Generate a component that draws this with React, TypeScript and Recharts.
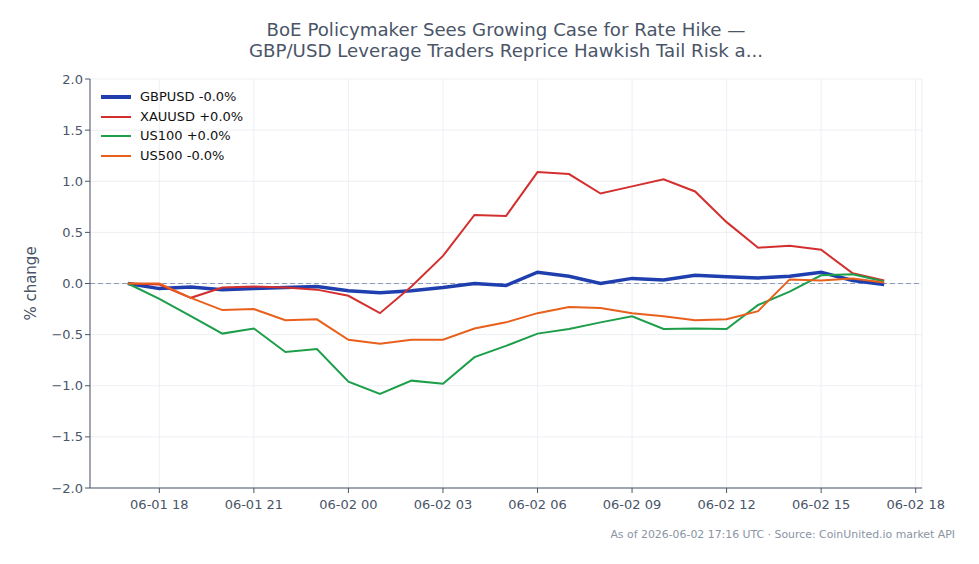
import React from "react";
import {
  LineChart,
  Line,
  XAxis,
  YAxis,
  CartesianGrid,
  ReferenceLine,
} from "recharts";

// hours since 06-01 00:00 UTC (17 = 06-01 17:00 ... 41 = 06-02 17:00)
const hours = [17, 18, 19, 20, 21, 22, 23, 24, 25, 26, 27, 28, 29, 30, 31, 32, 33, 34, 35, 36, 37, 38, 39, 40, 41];

const gbpusd = [0, -0.05, -0.035, -0.06, -0.05, -0.04, -0.03, -0.07, -0.09, -0.07, -0.04, 0.0, -0.02, 0.11, 0.07, 0.0, 0.05, 0.035, 0.08, 0.065, 0.055, 0.07, 0.11, 0.03, -0.01];
const xauusd = [0, -0.01, -0.14, -0.04, -0.03, -0.04, -0.06, -0.12, -0.29, -0.03, 0.27, 0.67, 0.66, 1.09, 1.07, 0.88, 0.95, 1.02, 0.9, 0.6, 0.35, 0.37, 0.33, 0.1, 0.03];
const us100 = [0, -0.15, -0.32, -0.49, -0.44, -0.67, -0.64, -0.96, -1.08, -0.95, -0.98, -0.72, -0.61, -0.49, -0.445, -0.38, -0.32, -0.445, -0.44, -0.445, -0.21, -0.08, 0.08, 0.09, 0.02];
const us500 = [0, 0.0, -0.14, -0.26, -0.25, -0.36, -0.35, -0.55, -0.59, -0.55, -0.55, -0.44, -0.38, -0.29, -0.23, -0.24, -0.29, -0.32, -0.36, -0.35, -0.27, 0.04, 0.03, 0.05, 0.01];

const xTicks = [18, 21, 24, 27, 30, 33, 36, 39, 42];
const yTicks = [-2, -1.5, -1, -0.5, 0, 0.5, 1, 1.5, 2];

const series = [
  { key: "GBPUSD", label: "GBPUSD -0.0%", color: "#1f3fae", width: 3.5 },
  { key: "XAUUSD", label: "XAUUSD +0.0%", color: "#d42f2f", width: 2 },
  { key: "US100", label: "US100 +0.0%", color: "#1d9e4a", width: 2 },
  { key: "US500", label: "US500 -0.0%", color: "#e8601c", width: 2 },
];

const data = hours.map((h, i) => ({
  t: h,
  GBPUSD: gbpusd[i],
  XAUUSD: xauusd[i],
  US100: us100[i],
  US500: us500[i],
}));

const FONT = "'DejaVu Sans', sans-serif";
const TEXT = "#4a5568";

const fmtX = (h: number) => {
  const day = h < 24 ? "06-01" : "06-02";
  const hh = String(h % 24).padStart(2, "0");
  return `${day} ${hh}`;
};

const fmtY = (v: number) => (v < 0 ? "\u2212" + Math.abs(v).toFixed(1) : v.toFixed(1));

function LegendBox() {
  return (
    <div
      style={{
        position: "absolute",
        left: 101,
        top: 87,
        fontSize: 13,
        color: "#111",
        lineHeight: "19.7px",
      }}
    >
      {series.map((s) => (
        <div key={s.key} style={{ display: "flex", alignItems: "center" }}>
          <span
            style={{
              display: "inline-block",
              width: 30,
              height: s.width,
              background: s.color,
              marginRight: 9,
            }}
          />
          {s.label}
        </div>
      ))}
    </div>
  );
}

export default function App() {
  return (
    <div
      style={{
        position: "absolute",
        left: 0,
        top: 0,
        width: 979,
        height: 564,
        background: "#fff",
        fontFamily: FONT,
      }}
    >
      <div
        style={{
          position: "absolute",
          left: 90,
          width: 832,
          top: 20,
          textAlign: "center",
          fontSize: 18.2,
          lineHeight: "20.5px",
          color: TEXT,
        }}
      >
        BoE Policymaker Sees Growing Case for Rate Hike —
        <br />
        GBP/USD Leverage Traders Reprice Hawkish Tail Risk a...
      </div>
      <LineChart
        width={979}
        height={564}
        data={data}
        margin={{ top: 79, right: 57, left: 40, bottom: 46 }}
      >
        <CartesianGrid stroke="#e8ebf0" strokeWidth={0.8} />
        <XAxis
          dataKey="t"
          type="number"
          domain={[15.8, 42.2]}
          ticks={xTicks}
          tickFormatter={fmtX}
          allowDataOverflow
          height={30}
          stroke={TEXT}
          tickSize={5}
          tick={{ fill: TEXT, fontSize: 13, fontFamily: FONT, dy: 5 }}
        />
        <YAxis
          type="number"
          domain={[-2, 2]}
          ticks={yTicks}
          tickFormatter={fmtY}
          width={50}
          stroke={TEXT}
          tickSize={5}
          tick={{ fill: TEXT, fontSize: 13, fontFamily: FONT }}
          label={{
            value: "% change",
            angle: -90,
            position: "insideLeft",
            dx: -14,
            style: { fill: TEXT, fontSize: 15, fontFamily: FONT, textAnchor: "middle" },
          }}
        />
        <ReferenceLine y={0} stroke="#8c9bb8" strokeDasharray="5 3" strokeWidth={1} />
        {series.map((s) => (
          <Line
            key={s.key}
            dataKey={s.key}
            name={s.label}
            stroke={s.color}
            strokeWidth={s.width}
            dot={false}
            type="linear"
            isAnimationActive={false}
          />
        ))}
      </LineChart>
      <LegendBox />
      <div
        style={{
          position: "absolute",
          right: 24,
          top: 528,
          fontSize: 10.9,
          color: "#8a94a3",
        }}
      >
        As of 2026-06-02 17:16 UTC · Source: CoinUnited.io market API
      </div>
    </div>
  );
}
